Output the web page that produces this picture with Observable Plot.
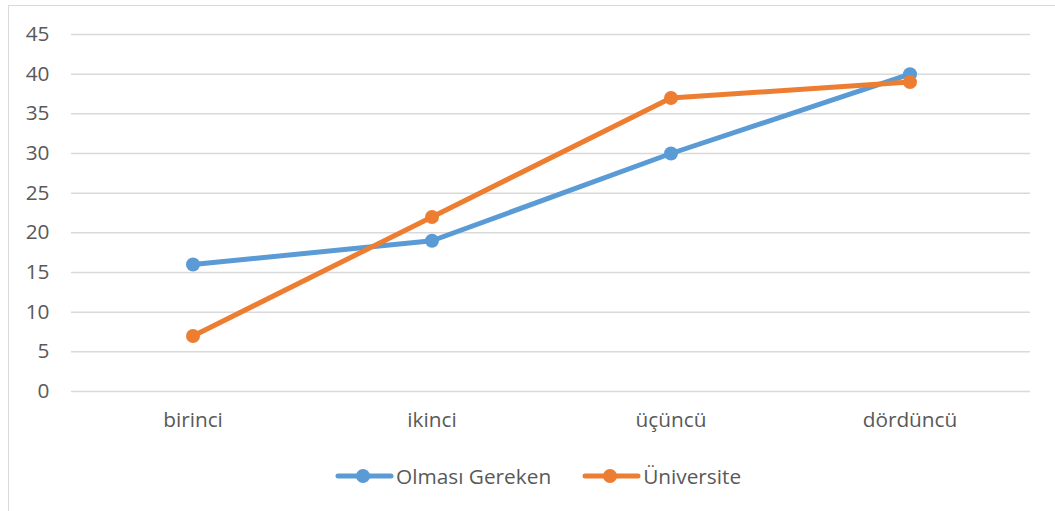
<!DOCTYPE html>
<html>
<head>
<meta charset="utf-8">
<script src="https://cdn.jsdelivr.net/npm/d3@7"></script>
<script src="https://cdn.jsdelivr.net/npm/@observablehq/plot@0.6"></script>
<style>
  html, body { margin: 0; padding: 0; background: #fff; overflow: hidden; }
  #frame { position: absolute; left: 8px; top: 5px; width: 1100px; height: 530px; border: 1px solid #d9d9d9; box-sizing: border-box; }
  #chart { position: absolute; left: 0; top: 0; }
  #legend { position: absolute; left: 335px; top: 462px; display: flex; font-family: "Open Sans", sans-serif; font-size: 20.8px; color: #595959; }
  .item { display: flex; align-items: center; }
  .item svg { display: block; }
</style>
</head>
<body>
<div id="frame"></div>
<div id="chart"></div>
<div id="legend"></div>
<script>
const categories = ["birinci", "ikinci", "üçüncü", "dördüncü"];
const seriesNames = ["Olması Gereken", "Üniversite"];
const olmasiGereken = [16, 19, 30, 40];
const universite = [7, 22, 37, 39];
const yTicks = [0, 5, 10, 15, 20, 25, 30, 35, 40, 45];
const colors = ["#5B9BD5", "#ED7D31"];

const data = [];
categories.forEach((c, i) => {
  data.push({cat: c, value: olmasiGereken[i], series: seriesNames[0]});
});
categories.forEach((c, i) => {
  data.push({cat: c, value: universite[i], series: seriesNames[1]});
});

const chart = Plot.plot({
  width: 1055,
  height: 440,
  marginLeft: 71,
  marginRight: 25,
  marginTop: 34,
  marginBottom: 49,
  style: {fontFamily: "'Open Sans', sans-serif", fontSize: "20.8px", color: "#595959", background: "transparent"},
  x: {type: "band", domain: categories, padding: 0, label: null},
  y: {domain: [0, 45], ticks: yTicks, label: null},
  color: {domain: seriesNames, range: colors},
  marks: [
    Plot.gridY(yTicks, {stroke: "#d9d9d9", strokeOpacity: 1, strokeWidth: 1.5}),
    Plot.axisY(yTicks, {tickSize: 0, tickPadding: 22, fontSize: 20.8, fill: "#595959"}),
    Plot.axisX({tickSize: 0, tickPadding: 21, fontSize: 20.8, fill: "#595959"}),
    Plot.line(data, {x: "cat", y: "value", z: "series", stroke: "series", strokeWidth: 5, strokeLinecap: "round", strokeLinejoin: "round"}),
    Plot.dot(data, {x: "cat", y: "value", fill: "series", r: 7, stroke: null})
  ]
});
document.getElementById("chart").appendChild(chart);

const legend = document.getElementById("legend");
seriesNames.forEach((name, i) => {
  const item = document.createElement("div");
  item.className = "item";
  item.style.marginRight = i === 0 ? "31px" : "0";
  const ns = "http://www.w3.org/2000/svg";
  const svg = document.createElementNS(ns, "svg");
  svg.setAttribute("width", 61);
  svg.setAttribute("height", 28);
  const ln = document.createElementNS(ns, "line");
  ln.setAttribute("x1", 3); ln.setAttribute("x2", 56);
  ln.setAttribute("y1", 14); ln.setAttribute("y2", 14);
  ln.setAttribute("stroke", colors[i]); ln.setAttribute("stroke-width", 5);
  ln.setAttribute("stroke-linecap", "round");
  const c = document.createElementNS(ns, "circle");
  c.setAttribute("cx", 28); c.setAttribute("cy", 14); c.setAttribute("r", 7);
  c.setAttribute("fill", colors[i]);
  svg.appendChild(ln); svg.appendChild(c);
  const t = document.createElement("span");
  t.textContent = name;
  item.appendChild(svg); item.appendChild(t);
  legend.appendChild(item);
});
</script>
</body>
</html>
